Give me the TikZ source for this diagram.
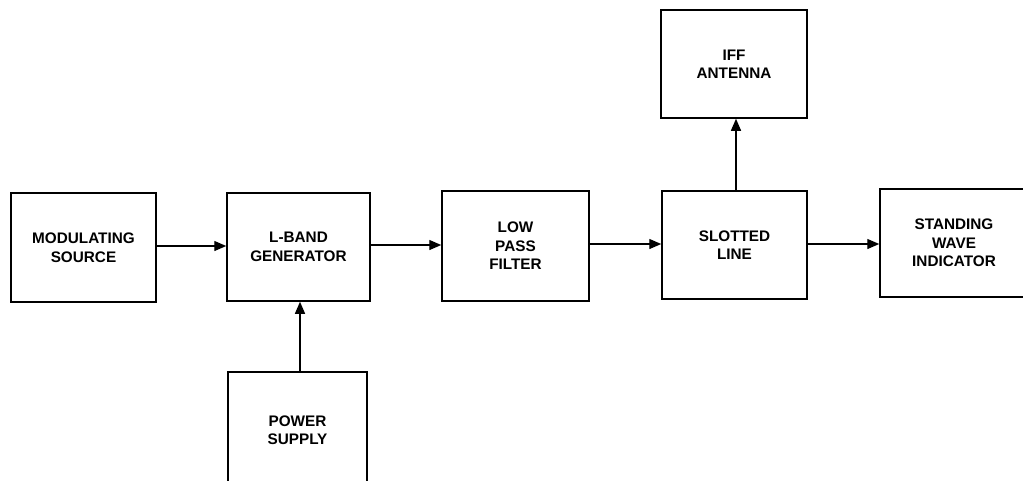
\documentclass[tikz,border=0pt]{standalone}
\usepackage{fontspec}
\setmainfont{Liberation Sans}
\usetikzlibrary{arrows.meta}
\begin{document}
\begin{tikzpicture}[x=1pt,y=-1pt,
  blk/.style={draw,line width=1.5pt,rectangle,align=center,inner sep=0pt,
    font=\fontsize{15.3}{18.5}\selectfont\bfseries},
  conn/.style={line width=1.3pt,-{Triangle[length=12pt,width=10pt]}}]
\useasboundingbox (0,0) rectangle (1023,480);
\clip (0,0) rectangle (1023,480);
\node[blk,minimum width=145pt,minimum height=109pt] (mod) at (83.5,247.5) {MODULATING\\SOURCE};
\node[blk,minimum width=143pt,minimum height=108pt] (lb) at (298.5,247) {L-BAND\\GENERATOR};
\node[blk,minimum width=147pt,minimum height=110pt] (lpf) at (515.5,246) {LOW\\PASS\\FILTER};
\node[blk,minimum width=145pt,minimum height=108pt] (sl) at (734.5,245) {SLOTTED\\LINE};
\node[blk,minimum width=148pt,minimum height=108pt] (swi) at (954,243) {STANDING\\WAVE\\INDICATOR};
\node[blk,minimum width=146pt,minimum height=108pt] (iff) at (734,64) {IFF\\ANTENNA};
\node[blk,minimum width=139pt,minimum height=116pt] (ps) at (297.5,430) {POWER\\SUPPLY};
\draw[conn] (mod.east |- 0,246) -- (lb.west |- 0,246);
\draw[conn] (lb.east |- 0,245) -- (lpf.west |- 0,245);
\draw[conn] (lpf.east |- 0,244) -- (sl.west |- 0,244);
\draw[conn] (sl.east |- 0,244) -- (swi.west |- 0,244);
\draw[conn] (sl.north -| 736,0) -- (iff.south -| 736,0);
\draw[conn] (ps.north -| 300,0) -- (lb.south -| 300,0);
\end{tikzpicture}
\end{document}
